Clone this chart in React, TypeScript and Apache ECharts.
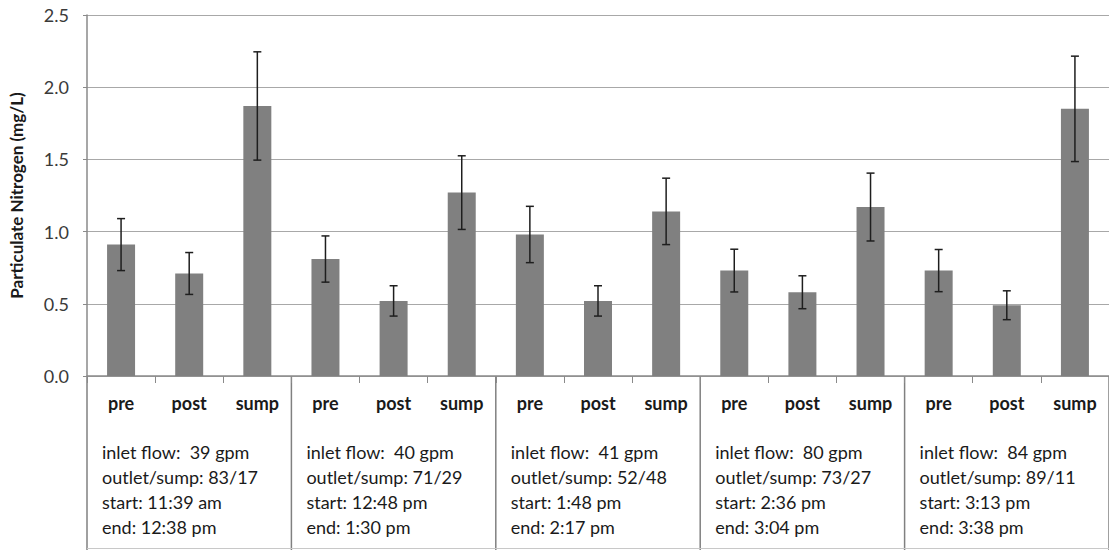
import React, { useEffect, useRef } from "react";
import * as echarts from "echarts";

const categories = ["pre", "post", "sump", "pre", "post", "sump", "pre", "post", "sump", "pre", "post", "sump", "pre", "post", "sump"];
const means = [0.91, 0.71, 1.87, 0.81, 0.52, 1.27, 0.98, 0.52, 1.14, 0.73, 0.58, 1.17, 0.73, 0.49, 1.85];
const errors = [0.18, 0.145, 0.375, 0.16, 0.105, 0.255, 0.195, 0.105, 0.23, 0.148, 0.114, 0.235, 0.146, 0.10, 0.365];
const yTicks = { min: 0, max: 2.5, interval: 0.5 };
const groupTexts = [
  ["inlet flow:  39 gpm", "outlet/sump: 83/17", "start: 11:39 am", "end: 12:38 pm"],
  ["inlet flow:  40 gpm", "outlet/sump: 71/29", "start: 12:48 pm", "end: 1:30 pm"],
  ["inlet flow:  41 gpm", "outlet/sump: 52/48", "start: 1:48 pm", "end: 2:17 pm"],
  ["inlet flow:  80 gpm", "outlet/sump: 73/27", "start: 2:36 pm", "end: 3:04 pm"],
  ["inlet flow:  84 gpm", "outlet/sump: 89/11", "start: 3:13 pm", "end: 3:38 pm"],
];
const yAxisName = "Particulate Nitrogen (mg/L)";

const FONT = "Lato, 'Noto Sans', sans-serif";

export default function App() {
  const ref = useRef<HTMLDivElement>(null);
  useEffect(() => {
    if (!ref.current) return;
    const chart = echarts.init(ref.current, undefined, { renderer: "svg" });
    const errData = means.map((m, i) => [i, m - errors[i], m + errors[i]]);
    chart.setOption({
      animation: false,
      backgroundColor: "#ffffff",
      grid: { left: 80, right: -8, top: 15, bottom: 174, containLabel: false },
      xAxis: {
        type: "category",
        data: categories,
        boundaryGap: true,
        axisLine: { show: true, lineStyle: { color: "#8a8a8a", width: 1.5 } },
        axisTick: { show: true, interval: 0, length: 7, lineStyle: { color: "#8a8a8a", width: 1 } },
        axisLabel: {
          interval: 0,
          margin: 18,
          fontFamily: FONT,
          fontWeight: "bold",
          fontSize: 18,
          color: "#1a1a1a",
        },
        splitLine: { show: false },
      },
      yAxis: {
        type: "value",
        min: yTicks.min,
        max: yTicks.max,
        interval: yTicks.interval,
        name: yAxisName,
        nameLocation: "middle",
        nameGap: 62,
        nameRotate: 90,
        nameTextStyle: { fontFamily: FONT, fontWeight: "bold", fontSize: 17, color: "#1a1a1a" },
        axisLine: { show: true, lineStyle: { color: "#8a8a8a", width: 1.5 } },
        axisTick: { show: true, length: 4, lineStyle: { color: "#8a8a8a" } },
        axisLabel: {
          margin: 18,
          fontFamily: FONT,
          fontSize: 18,
          color: "#3a3a3a",
          formatter: (v: number) => v.toFixed(1),
        },
        splitLine: { show: true, lineStyle: { color: "#a8a8a8", width: 1.2 } },
      },
      series: [
        {
          type: "bar",
          data: means,
          barWidth: 28,
          itemStyle: { color: "#808080" },
        },
        {
          type: "custom",
          data: errData,
          encode: { x: 0, y: [1, 2] },
          z: 10,
          renderItem: (params: any, api: any) => {
            const i = api.value(0);
            const lo = api.coord([i, api.value(1)]);
            const hi = api.coord([i, api.value(2)]);
            const hw = 4;
            const style = { stroke: "#1e1e1e", lineWidth: 1.5 };
            return {
              type: "group",
              children: [
                { type: "line", shape: { x1: hi[0], y1: hi[1], x2: lo[0], y2: lo[1] }, style },
                { type: "line", shape: { x1: hi[0] - hw, y1: hi[1], x2: hi[0] + hw, y2: hi[1] }, style },
                { type: "line", shape: { x1: lo[0] - hw, y1: lo[1], x2: lo[0] + hw, y2: lo[1] }, style },
              ],
            };
          },
        },
      ],
    });

    // table decoration below axis, positioned from the axis scale
    const x0 = chart.convertToPixel({ xAxisIndex: 0 }, 0) as number;
    const x1 = chart.convertToPixel({ xAxisIndex: 0 }, 1) as number;
    const band = x1 - x0;
    const axisY = chart.convertToPixel({ yAxisIndex: 0 }, 0) as number;
    const H = 550;
    const graphics: any[] = [];
    for (let g = 0; g <= 5; g++) {
      const bx = x0 - band / 2 + g * 3 * band;
      graphics.push({
        type: "line",
        shape: { x1: bx, y1: axisY, x2: bx, y2: H },
        style: { stroke: "#808080", lineWidth: 1.5 },
        silent: true,
      });
    }
    graphics.push({
      type: "line",
      shape: { x1: x0 - band / 2, y1: H - 1.5, x2: x0 - band / 2 + 15 * band, y2: H - 1.5 },
      style: { stroke: "#c8c8c8", lineWidth: 1 },
      silent: true,
    });
    groupTexts.forEach((lines, g) => {
      const bx = x0 - band / 2 + g * 3 * band;
      graphics.push({
        type: "text",
        x: bx + 15,
        y: axisY + 63,
        style: {
          text: lines.join("\n"),
          fontFamily: FONT,
          fontSize: 18,
          lineHeight: 25,
          fill: "#1a1a1a",
          align: "left",
          verticalAlign: "top",
        },
        silent: true,
      });
    });
    chart.setOption({ graphic: graphics });

    return () => chart.dispose();
  }, []);
  return (
    <div
      ref={ref}
      style={{ position: "fixed", left: 0, top: 0, width: 1109, height: 550, background: "#fff" }}
    />
  );
}
